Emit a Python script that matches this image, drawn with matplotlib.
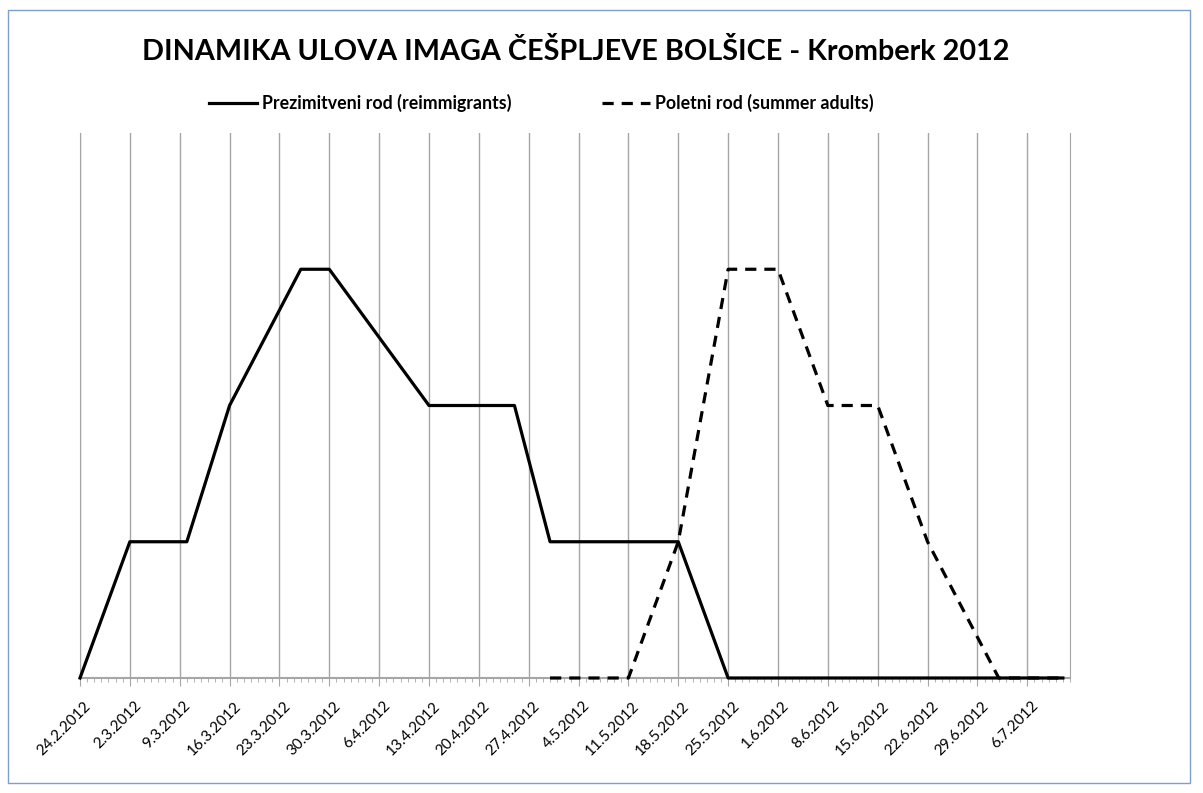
import datetime as dt
import matplotlib
matplotlib.use("Agg")
import matplotlib.pyplot as plt
import matplotlib.dates as mdates
import matplotlib.transforms as mtransforms
from matplotlib.patches import Rectangle
from matplotlib.lines import Line2D

plt.rcParams['font.family'] = ['Lato', 'DejaVu Sans']

# Prezimitveni rod (reimmigrants)
reim_dates = ['24.2.2012', '2.3.2012', '10.3.2012', '16.3.2012', '26.3.2012', '30.3.2012',
              '13.4.2012', '25.4.2012', '30.4.2012', '18.5.2012', '25.5.2012', '11.7.2012']
reim_vals = [0, 1, 1, 2, 3, 3, 2, 2, 1, 1, 0, 0]

# Poletni rod (summer adults)
summer_dates = ['30.4.2012', '11.5.2012', '18.5.2012', '25.5.2012', '1.6.2012', '8.6.2012',
                '15.6.2012', '22.6.2012', '2.7.2012', '11.7.2012']
summer_vals = [0, 0, 1, 3, 3, 2, 2, 1, 0, 0]

tick_labels = ['24.2.2012', '2.3.2012', '9.3.2012', '16.3.2012', '23.3.2012', '30.3.2012',
               '6.4.2012', '13.4.2012', '20.4.2012', '27.4.2012', '4.5.2012', '11.5.2012',
               '18.5.2012', '25.5.2012', '1.6.2012', '8.6.2012', '15.6.2012', '22.6.2012',
               '29.6.2012', '6.7.2012']

title = 'DINAMIKA ULOVA IMAGA ČEŠPLJEVE BOLŠICE - Kromberk 2012'
label_reim = 'Prezimitveni rod (reimmigrants)'
label_summer = 'Poletni rod (summer adults)'


def parse(d):
    return dt.datetime.strptime(d, '%d.%m.%Y')


fig = plt.figure(figsize=(12.03, 7.93), dpi=100)
ax = fig.add_axes([80 / 1203, 1 - 678 / 793, 990 / 1203, 545 / 793])

dash = (0, (3.5, 2.5))
ax.plot([parse(d) for d in reim_dates], reim_vals, color='black', lw=2.3,
        zorder=4, clip_on=False)
ax.plot([parse(d) for d in summer_dates], summer_vals, color='black', lw=2.3,
        linestyle=dash, zorder=4, clip_on=False)

ax.set_xlim(parse('24.2.2012'), parse('12.7.2012'))
ax.set_ylim(0, 4)
ax.set_yticks([])

ax.set_xticks([parse(d) for d in tick_labels])
ax.set_xticklabels(tick_labels, rotation=45, ha='right', rotation_mode='anchor',
                   fontsize=11)
ax.xaxis.set_minor_locator(mdates.DayLocator())
ax.grid(axis='x', which='major', color='#a6a6a6', lw=1)
ax.tick_params(axis='x', which='major', length=6, color='#a6a6a6', pad=9)
ax.tick_params(axis='x', which='minor', length=3, color='#a6a6a6')

# nudge the rotated labels a little to the right, like the original
shift = mtransforms.ScaledTranslation(4 / 100, 0, fig.dpi_scale_trans)
for lbl in ax.get_xticklabels():
    lbl.set_transform(lbl.get_transform() + shift)

ax.spines['top'].set_visible(False)
for s in ['left', 'right', 'bottom']:
    ax.spines[s].set_color('#a6a6a6')
ax.spines['bottom'].set_linewidth(1.5)

fig.text(0.479, 1 - 52 / 793, title, ha='center', va='center', fontsize=20.7,
         fontweight='bold')

handles = [Line2D([], [], color='black', lw=2.3),
           Line2D([], [], color='black', lw=2.3, linestyle=dash)]
fig.legend(handles, [label_reim, label_summer], loc='center',
           bbox_to_anchor=(0.45, 1 - 103 / 793), ncol=2, frameon=False,
           prop={'weight': 'bold', 'size': 12.8}, handlelength=2.7, columnspacing=5.1,
           handletextpad=0.3)

fig.patches.append(Rectangle((8 / 1203, 1 - 783 / 793), 1182 / 1203, 773 / 793,
                             transform=fig.transFigure, fill=False,
                             edgecolor='#7ba0cd', lw=1))

fig.savefig('out.png', dpi=100)
